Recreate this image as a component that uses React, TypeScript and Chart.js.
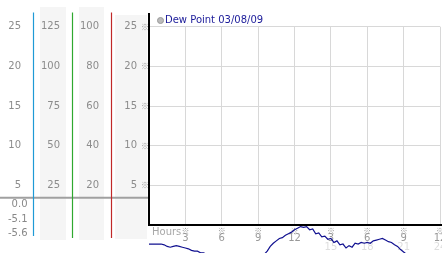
import React, { useEffect, useRef } from 'react';
import { Chart, registerables } from 'chart.js';

Chart.register(...registerables);

// ---- data ----
const dewHours = [
  0, 0.25, 0.5, 0.75, 1, 1.25, 1.5, 1.75, 2, 2.25, 2.5, 2.75, 3, 3.25, 3.5, 3.75,
  4, 4.25, 4.5, 4.75, 5, 5.25, 5.5, 5.75, 6, 6.25, 6.5, 6.75, 7, 7.25, 7.5, 7.75,
  8, 8.25, 8.5, 8.75, 9, 9.25, 9.5, 9.75, 10, 10.25, 10.5, 10.75, 11, 11.25, 11.5, 11.75,
  12, 12.25, 12.5, 12.75, 13, 13.25, 13.5, 13.75, 14, 14.25, 14.5, 14.75, 15, 15.25, 15.5, 15.75,
  16, 16.25, 16.5, 16.75, 17, 17.25, 17.5, 17.75, 18, 18.25, 18.5, 18.75, 19, 19.25, 19.5, 19.75,
  20, 20.25, 20.5, 20.75, 21, 21.25, 21.5, 21.75, 22, 22.25, 22.5, 22.75, 23, 23.25, 23.5, 23.75, 24,
];
const dewValues = [
  -2.4, -2.4, -2.4, -2.4, -2.4, -2.5, -2.7, -2.8, -2.7, -2.6, -2.7, -2.8, -2.9, -3.0, -3.2, -3.3,
  -3.3, -3.5, -3.5, -3.7, -3.9, -4.1, -4.3, -4.5, -4.8, -5.0, -5.1, -5.3, -5.6, -5.4, -5.2, -5.0,
  -4.9, -4.7, -4.6, -4.4, -4.2, -4.0, -3.7, -3.3, -2.7, -2.3, -2.0, -1.7, -1.6, -1.3, -1.1, -0.9,
  -0.6, -0.4, -0.2, -0.3, -0.2, -0.6, -0.5, -1.1, -1.0, -1.5, -1.4, -1.8, -1.7, -2.2, -2.0, -2.5,
  -2.4, -2.9, -2.6, -2.8, -2.3, -2.4, -2.2, -2.3, -2.2, -2.3, -2.0, -1.9, -1.8, -1.7, -1.9, -2.1,
  -2.2, -2.5, -2.7, -3.1, -3.4, -3.7, -3.9, -4.1, -4.3, -4.5, -4.6, -4.8, -4.9, -5.0, -5.0, -5.1, -5.1,
];
const hourTicks = [0, 3, 6, 9, 12, 15, 18, 21, 24];
const hourLabels = ['', '3', '6', '9', '12', '3', '6', '9', '12'];
const pmLabels = ['', '', '', '', '', '15', '18', '21', '24'];
const tempTicks = [5, 10, 15, 20, 25];
const humidityTicks = [25, 50, 75, 100, 125];
const pressureTicks = [20, 40, 60, 80, 100];
const dewTicks = [5, 10, 15, 20, 25];
const dewStats = ['0.0', '-5.1', '-5.6'];
const legendLabel = 'Dew Point 03/08/09';
const axisTitle = 'Hours';

const FONT = "'DejaVu Sans', Verdana, sans-serif";
const MARK_FONT = "8px 'Noto Sans CJK SC', 'DejaVu Sans', sans-serif";

const decor = {
  id: 'decor',
  beforeDraw(chart: any) {
    const ctx = chart.ctx;
    const sH = chart.scales.yH;
    const sP = chart.scales.yP;
    const sY = chart.scales.y;
    ctx.save();
    ctx.fillStyle = '#f5f5f5';
    ctx.fillRect(sH.left + 7, 7, sH.right - 6 - (sH.left + 7), 233);
    ctx.fillRect(sP.left + 7, 7, sP.right - 7 - (sP.left + 7), 233);
    ctx.fillRect(sY.left + 4, 15, sY.right - 2 - (sY.left + 4), 224);
    ctx.restore();
  },
  beforeDatasetsDraw(chart: any) {
    const ctx = chart.ctx;
    const sT = chart.scales.yT;
    const sH = chart.scales.yH;
    const sP = chart.scales.yP;
    const sY = chart.scales.y;
    const sX = chart.scales.x;
    const area = chart.chartArea;
    ctx.save();
    // gray divider
    const dy = sY.getPixelForValue(3.45);
    ctx.strokeStyle = '#a0a0a0';
    ctx.lineWidth = 2;
    ctx.beginPath();
    ctx.moveTo(0, dy);
    ctx.lineTo(area.left - 1, dy);
    ctx.stroke();
    // coloured axis lines
    const vline = (x: number, y0: number, y1: number, c: string, w: number) => {
      ctx.strokeStyle = c;
      ctx.lineWidth = w;
      ctx.beginPath();
      ctx.moveTo(x, y0);
      ctx.lineTo(x, y1);
      ctx.stroke();
    };
    vline(Math.round(sT.right) + 0.5, 12.5, 236, '#1f9ad6', 1.2);
    vline(Math.round(sH.right) + 0.5, 12.5, 238, '#2fa82f', 1.2);
    vline(Math.round(sP.right) + 0.5, 12.5, 238, '#c02828', 1.2);
    vline(area.left, 13, area.bottom + 1, '#000000', 2);
    ctx.strokeStyle = '#000000';
    ctx.lineWidth = 2;
    ctx.beginPath();
    ctx.moveTo(area.left - 1, area.bottom);
    ctx.lineTo(chart.width, area.bottom);
    ctx.stroke();

    // small marks
    ctx.fillStyle = '#9a9a9a';
    ctx.font = MARK_FONT;
    ctx.textAlign = 'center';
    ctx.textBaseline = 'middle';
    dewTicks.forEach((v) => {
      ctx.fillText('※', area.left - 4, sY.getPixelForValue(v));
    });
    hourTicks.forEach((h, i) => {
      if (i === 0) return;
      ctx.fillText('※', sX.getPixelForValue(h), 231);
    });

    // faint 24h labels
    ctx.fillStyle = '#dedede';
    ctx.font = `10px ${FONT}`;
    hourTicks.forEach((h, i) => {
      if (!pmLabels[i]) return;
      ctx.fillText(pmLabels[i], sX.getPixelForValue(h), 247);
    });

    // axis title
    ctx.fillStyle = '#a8a8a8';
    ctx.font = `10px ${FONT}`;
    ctx.textAlign = 'left';
    ctx.fillText(axisTitle, area.left + 3, 232);

    // lower stats on first column
    ctx.fillStyle = '#888888';
    ctx.font = `10px ${FONT}`;
    ctx.textAlign = 'right';
    const statY = [204, 219, 233];
    dewStats.forEach((s, i) => ctx.fillText(s, 27.5, statY[i]));

    // legend
    ctx.beginPath();
    ctx.arc(area.left + 11.5, 20.5, 3, 0, Math.PI * 2);
    ctx.fillStyle = '#bbbbbb';
    ctx.fill();
    ctx.strokeStyle = '#999999';
    ctx.lineWidth = 1;
    ctx.stroke();
    ctx.fillStyle = '#1a1a99';
    ctx.textAlign = 'left';
    ctx.font = `10px ${FONT}`;
    ctx.fillText(legendLabel, area.left + 16, 20.5);
    ctx.restore();
  },
};

const sideAxis = (ticksArr: number[], max: number, weight: number, width: number) => ({
  type: 'linear',
  position: 'left',
  weight,
  min: 0,
  max,
  afterBuildTicks: (s: any) => {
    s.ticks = ticksArr.map((v) => ({ value: v }));
  },
  afterFit: (s: any) => {
    s.width = width;
  },
  ticks: { color: '#8c8c8c', padding: 12, font: { size: 10, family: FONT } },
  grid: { display: false, drawTicks: false },
  border: { display: false },
});

export default function App() {
  const ref = useRef<HTMLCanvasElement | null>(null);
  useEffect(() => {
    if (!ref.current) return;
    const chart = new Chart(ref.current, {
      type: 'line',
      data: {
        datasets: [
          {
            label: legendLabel,
            data: dewHours.map((h, i) => ({ x: h, y: dewValues[i] })),
            borderColor: '#101090',
            borderWidth: 1.2,
            pointRadius: 0,
            tension: 0,
            clip: false,
            xAxisID: 'x',
            yAxisID: 'y',
          } as any,
        ],
      },
      options: {
        responsive: false,
        animation: false,
        devicePixelRatio: 1,
        layout: { padding: { top: 26.7, right: 2, left: 0, bottom: 0 } },
        plugins: { legend: { display: false }, tooltip: { enabled: false } },
        scales: {
          x: {
            type: 'linear',
            position: 'bottom',
            min: 0,
            max: 24,
            afterBuildTicks: (s: any) => {
              s.ticks = hourTicks.map((v) => ({ value: v }));
            },
            afterFit: (s: any) => {
              s.height = 28;
              s.paddingLeft = 0;
              s.paddingRight = 0;
            },
            ticks: {
              color: '#999999',
              padding: 7,
              maxRotation: 0,
              autoSkip: false,
              font: { size: 10, family: FONT },
              callback: (_v: any, i: number) => hourLabels[i],
            },
            grid: { color: '#d8d8d8', drawTicks: false },
            border: { display: false },
          },
          yT: sideAxis(tempTicks, 25, 4, 33),
          yH: sideAxis(humidityTicks, 125, 3, 39),
          yP: sideAxis(pressureTicks, 100, 2, 39),
          y: {
            type: 'linear',
            position: 'left',
            weight: 1,
            min: 0,
            max: 25,
            afterBuildTicks: (s: any) => {
              s.ticks = dewTicks.map((v) => ({ value: v }));
            },
            afterFit: (s: any) => {
              s.width = 38;
            },
            ticks: { color: '#8c8c8c', padding: 12, font: { size: 10, family: FONT } },
            grid: { color: '#d8d8d8', drawTicks: false },
            border: { display: false },
          },
        } as any,
      },
      plugins: [decor],
    });
    return () => chart.destroy();
  }, []);
  return (
    <div style={{ position: 'fixed', left: 0, top: 0, width: 442, height: 253, background: '#fff' }}>
      <canvas ref={ref} width={442} height={253} style={{ display: 'block' }} />
    </div>
  );
}
